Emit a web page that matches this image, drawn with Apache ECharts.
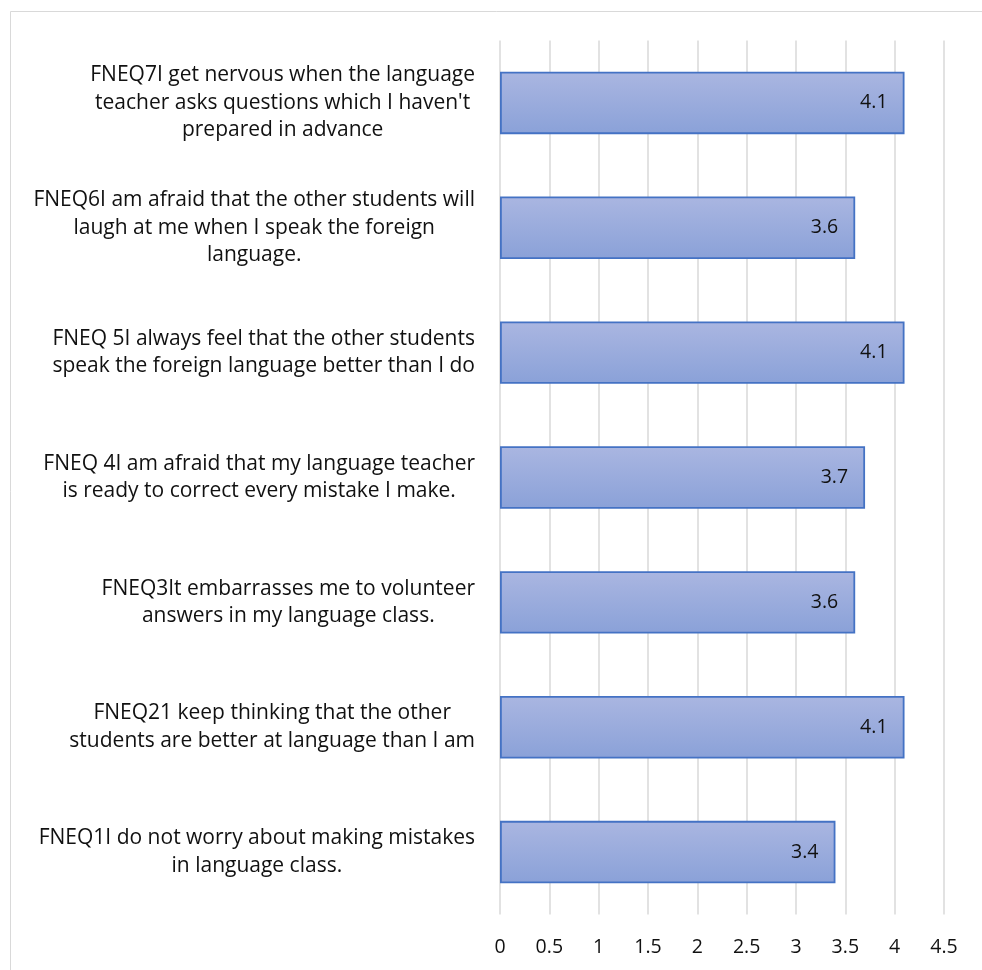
<!DOCTYPE html>
<html>
<head>
<meta charset="utf-8">
<script src="https://cdn.jsdelivr.net/npm/echarts@6/dist/echarts.min.js"></script>
<style>html,body{margin:0;padding:0;background:#fff;}#c{width:982px;height:970px;}</style>
</head>
<body>
<div id="c"></div>
<script>
const categories = [
  "FNEQ7I get nervous when the language\nteacher asks questions which I haven't\nprepared in advance",
  "FNEQ6I am afraid that the other students will\nlaugh at me when I speak the foreign\nlanguage.",
  "FNEQ 5I always feel that the other students\nspeak the foreign language better than I do",
  "FNEQ 4I am afraid that my language teacher\nis ready to correct every mistake I make.",
  "FNEQ3It embarrasses me to volunteer\nanswers in my language class.",
  "FNEQ21 keep thinking that the other\nstudents are better at language than I am",
  "FNEQ1I do not worry about making mistakes\nin language class."
];
const values = [4.1, 3.6, 4.1, 3.7, 3.6, 4.1, 3.4];
const xTicks = [0, 0.5, 1, 1.5, 2, 2.5, 3, 3.5, 4, 4.5];

const FONT = '"Open Sans", sans-serif';
const chart = echarts.init(document.getElementById('c'));
chart.setOption({
  animation: false,
  backgroundColor: '#fff',
  graphic: [{
    type: 'rect', silent: true,
    shape: { x: 10.5, y: 11.5, width: 1000, height: 1000 },
    style: { fill: 'none', stroke: '#d9d9d9', lineWidth: 1 }
  }],
  grid: { left: 500, right: 38, top: 40.5, bottom: 55.5 },
  xAxis: {
    type: 'value', min: 0, max: xTicks[xTicks.length - 1], interval: 0.5,
    axisLine: { show: false }, axisTick: { show: false },
    splitLine: { show: true, lineStyle: { color: '#d9d9d9', width: 1.5 } },
    axisLabel: { fontFamily: FONT, fontSize: 19.5, color: '#111', margin: 23,
      formatter: v => String(v) }
  },
  yAxis: {
    type: 'category', data: categories, inverse: true,
    axisLine: { show: false }, axisTick: { show: false },
    axisLabel: {
      margin: 25, align: 'right', fontFamily: FONT, fontSize: 21, color: '#111',
      formatter: v => v.split('\n').map(l => '{c|' + l + '}').join('\n'),
      rich: { c: { align: 'center', fontFamily: FONT, fontSize: 21, lineHeight: 27.5, color: '#111' } }
    }
  },
  series: [{
    type: 'bar', data: values, barWidth: '50%',
    itemStyle: {
      color: new echarts.graphic.LinearGradient(0, 0, 0, 1, [
        { offset: 0, color: '#aab6e1' }, { offset: 1, color: '#8aa1d8' }
      ]),
      borderColor: '#4472c4', borderWidth: 1.8
    },
    label: { show: true, position: 'insideRight', distance: 17, fontFamily: FONT, fontSize: 19.5, color: '#111',
      formatter: p => p.value.toFixed(1) }
  }]
});
</script>
</body>
</html>
